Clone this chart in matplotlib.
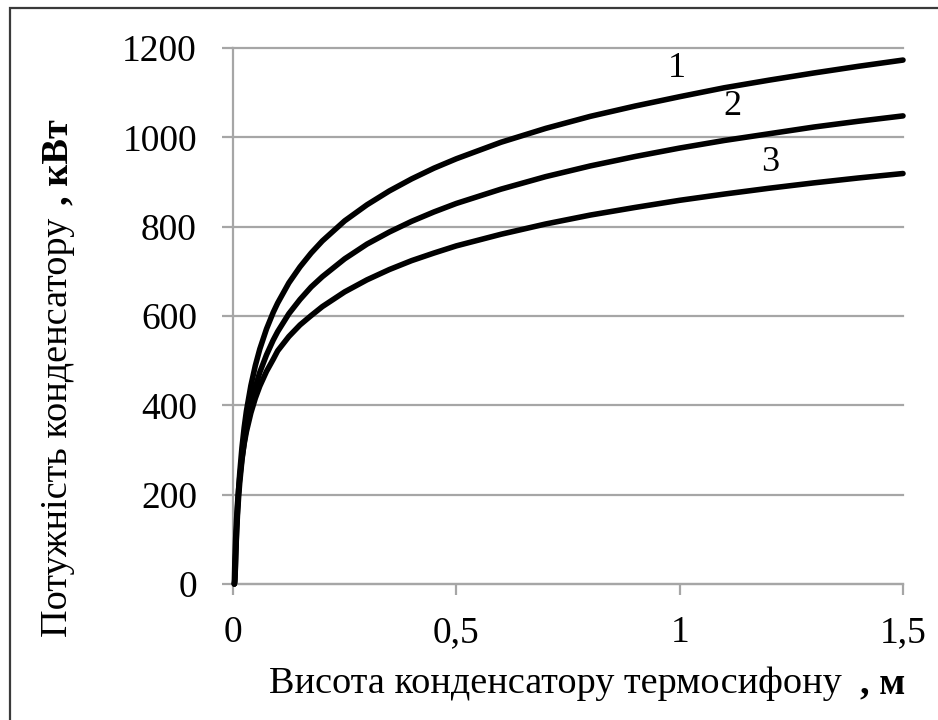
import matplotlib
matplotlib.use("Agg")
import matplotlib.pyplot as plt
from matplotlib.patches import Rectangle

# condenser height, m
height = [0.003, 0.004, 0.005, 0.006, 0.008, 0.01, 0.0125, 0.015, 0.02, 0.025,
          0.03, 0.04, 0.05, 0.06, 0.075, 0.09, 0.1, 0.125, 0.15, 0.175, 0.2,
          0.25, 0.3, 0.35, 0.4, 0.45, 0.5, 0.6, 0.7, 0.8, 0.9, 1.0, 1.1, 1.2,
          1.3, 1.4, 1.5]

# condenser power, kW (curves 1, 2, 3)
power_1 = [0, 10, 27, 63, 121, 166, 211, 247, 305, 350,
           387, 444, 489, 526, 571, 608, 629, 674, 710, 741, 768,
           813, 849, 880, 907, 931, 952, 989, 1020, 1047, 1070, 1091, 1111, 1128,
           1144, 1159, 1173]
power_2 = [0, 5, 30, 62, 114, 154, 194, 226, 277, 317,
           350, 401, 441, 474, 513, 546, 565, 605, 637, 665, 688,
           728, 761, 788, 812, 833, 852, 884, 912, 936, 957, 976, 993, 1008,
           1023, 1036, 1048]
power_3 = [0, 43, 76, 103, 145, 178, 211, 238, 281, 314,
           341, 383, 416, 443, 476, 503, 522, 554, 580, 601, 621,
           654, 681, 704, 724, 741, 757, 783, 806, 826, 843, 859, 873, 886,
           898, 909, 919]

curve_names = ["1", "2", "3"]
name_pos = [(0.994, 1155), (1.119, 1068), (1.202, 943)]

x_ticks = [0, 0.5, 1, 1.5]
x_tick_labels = ["0", "0,5", "1", "1,5"]
y_ticks = [0, 200, 400, 600, 800, 1000, 1200]

W, H = 938, 720
FONT = "Liberation Serif"
GRID = "#a6a6a6"

plt.rcParams["font.family"] = [FONT, "DejaVu Serif"]

fig = plt.figure(figsize=(W / 100, H / 100), dpi=100)
fig.patch.set_facecolor("white")


def fx(px):
    return px / W


def fy(py):
    return 1 - py / H


ax = fig.add_axes([fx(233), fy(584), fx(903) - fx(233), fy(48) - fy(584)])

for y in (power_1, power_2, power_3):
    ax.plot(height, y, color="black", linewidth=4.0, solid_capstyle="round",
            solid_joinstyle="round", zorder=3, clip_on=False)

for name, (xn, yn) in zip(curve_names, name_pos):
    ax.text(xn, yn, name, fontsize=26, ha="center", va="center", color="black")

ax.set_xlim(0, 1.5)
ax.set_ylim(0, 1200)
ax.set_xticks(x_ticks)
ax.set_xticklabels(x_tick_labels)
ax.set_yticks(y_ticks)
ax.set_yticklabels([str(v) for v in y_ticks])

ax.grid(axis="y", color=GRID, linewidth=1.6)
for line in ax.get_ygridlines():
    line.set_clip_on(False)
ax.set_axisbelow(True)

for side in ("top", "right"):
    ax.spines[side].set_visible(False)
for side in ("left", "bottom"):
    ax.spines[side].set_color(GRID)
    ax.spines[side].set_linewidth(1.6)

ax.tick_params(axis="both", colors=GRID, width=1.6, length=8, labelsize=27,
               labelcolor="black")
ax.tick_params(axis="y", pad=18)
ax.tick_params(axis="x", pad=15)

# axis titles: regular text followed by bold unit
fig.text(fx(842), fy(693), "Висота конденсатору термосифону", fontsize=27.5,
         ha="right", va="baseline")
fig.text(fx(860), fy(693), ", м", fontsize=27.5, fontweight="bold",
         ha="left", va="baseline")

fig.text(fx(67), fy(637), "Потужність конденсатору", fontsize=27.5,
         rotation=90, rotation_mode="anchor", ha="left", va="baseline")
fig.text(fx(67), fy(205), ", кВт", fontsize=27.5, fontweight="bold",
         rotation=90, rotation_mode="anchor", ha="left", va="baseline")

# frame around the picture (cut off at the right and bottom)
fig.patches.append(Rectangle((fx(10), fy(900)), 1.2, fy(8) - fy(900),
                             transform=fig.transFigure, fill=False,
                             edgecolor="#3a3a3a", linewidth=1.6))

fig.savefig("out.png", dpi=100, facecolor="white")
